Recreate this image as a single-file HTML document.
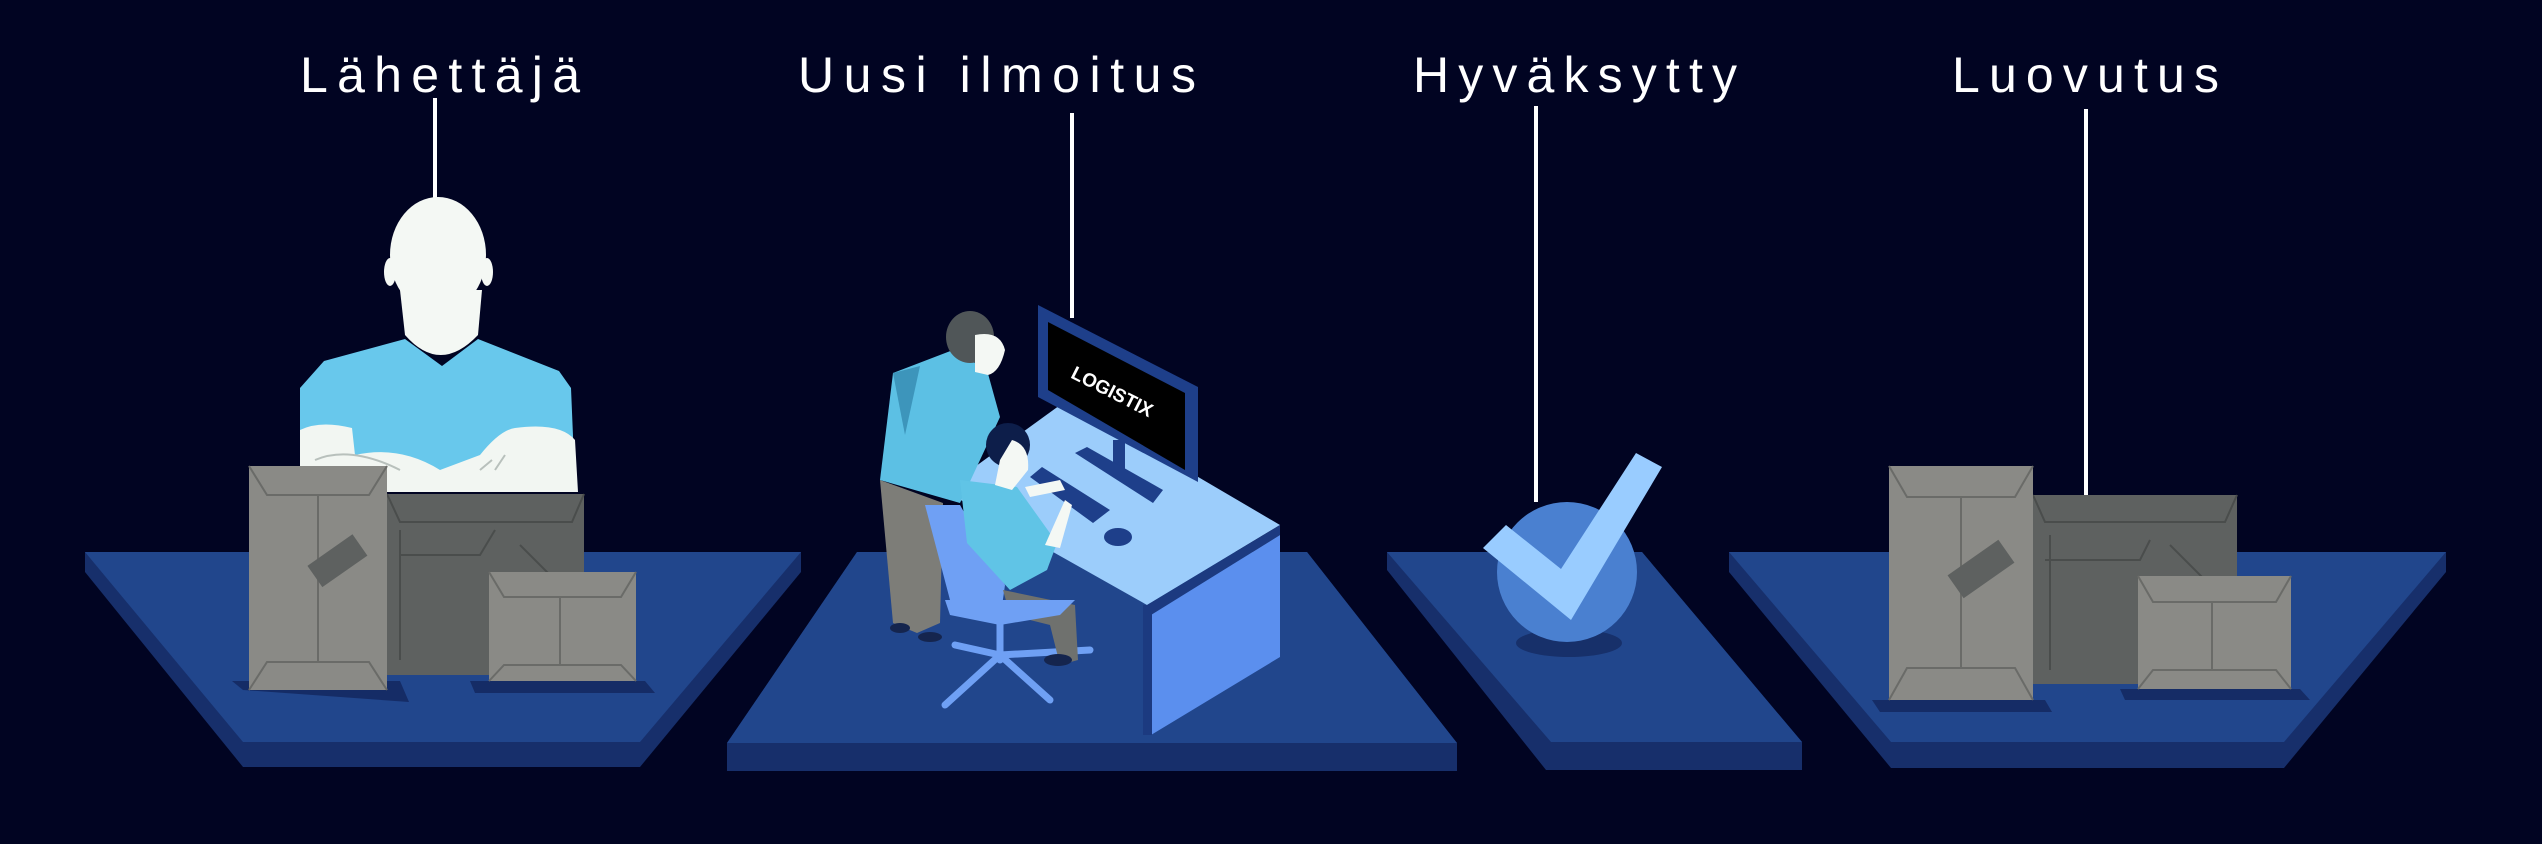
<!DOCTYPE html>
<html><head><meta charset="utf-8"><style>
html,body{margin:0;padding:0;background:#010422;}
svg{display:block}
text.lbl{font-family:"Liberation Sans",sans-serif;font-size:50px;fill:#fff;}
</style></head><body>
<svg width="2542" height="844" viewBox="0 0 2542 844" xmlns="http://www.w3.org/2000/svg">
<rect width="2542" height="844" fill="#010422"/>
<!-- labels -->
<text class="lbl" x="300" y="92" textLength="280" lengthAdjust="spacing">Lähettäjä</text>
<text class="lbl" x="798" y="92" textLength="398" lengthAdjust="spacing">Uusi ilmoitus</text>
<text class="lbl" x="1413" y="92" textLength="324" lengthAdjust="spacing">Hyväksytty</text>
<text class="lbl" x="1952" y="92" textLength="267" lengthAdjust="spacing">Luovutus</text>
<g stroke="#fff" stroke-width="4">
<line x1="435" y1="98" x2="435" y2="202"/>
<line x1="1072" y1="113" x2="1072" y2="318"/>
<line x1="1536" y1="106" x2="1536" y2="502"/>
<line x1="2086" y1="109" x2="2086" y2="496"/>
</g>

<!-- platforms -->
<polygon points="85,552 85,572 243,767 640,767 801,572 801,552" fill="#172f6b"/>
<polygon points="85,552 801,552 640,742 243,742" fill="#21468c"/>
<polygon points="857,552 727,743 727,771 1457,771 1457,743 1307,552" fill="#172f6b"/>
<polygon points="857,552 1307,552 1457,743 727,743" fill="#21468c"/>
<polygon points="1387,552 1387,570 1546,770 1802,770 1802,742 1642,552" fill="#172f6b"/>
<polygon points="1387,552 1642,552 1802,742 1551,742" fill="#21468c"/>
<polygon points="1729,552 1729,572 1891,768 2284,768 2446,572 2446,552" fill="#172f6b"/>
<polygon points="1729,552 2446,552 2284,742 1891,742" fill="#21468c"/>

<!-- Sender person -->
<polygon points="300,388 324,361 405,339 442,366 478,339 559,371 571,388 575,484 300,484" fill="#68c8ec"/>
<ellipse cx="438" cy="255" rx="48" ry="58" fill="#f4f8f4"/>
<ellipse cx="390" cy="272" rx="6" ry="14" fill="#f4f8f4"/>
<ellipse cx="487" cy="272" rx="6" ry="14" fill="#f4f8f4"/>
<path d="M400,290 L405,335 Q440,375 478,335 L482,290 Z" fill="#f4f8f4"/>
<path d="M300,430 Q320,420 352,428 L355,455 Q400,445 440,470 L480,455 Q500,430 515,428 Q560,422 575,440 L578,492 L300,492 Z" fill="#f2f6f2"/>
<path d="M315,460 Q350,445 400,470 M480,470 L492,460 M495,470 L505,455" stroke="#b8c0bc" stroke-width="2" fill="none"/>

<!-- boxes platform 1 -->
<polygon points="232,681 243,690 409,702 400,681" fill="#152c66"/>
<polygon points="470,681 475,693 655,693 645,681" fill="#152c66"/>
<rect x="387" y="494" width="197" height="181" fill="#5e6160"/>
<g stroke="#4a4d4c" stroke-width="2" fill="none">
<polyline points="387,494 400,522 572,522 584,494"/>
<polyline points="400,555 480,555 495,530"/>
<line x1="400" y1="530" x2="400" y2="660"/>
<line x1="520" y1="545" x2="555" y2="580"/>
</g>
<rect x="249" y="466" width="138" height="224" fill="#8a8a86"/>
<g stroke="#6a6b68" stroke-width="2" fill="none">
<polyline points="249,466 267,495 369,495 387,466"/>
<polyline points="249,690 267,662 369,662 387,690"/>
<line x1="318" y1="495" x2="318" y2="662"/>
</g>
<rect x="310" y="548" width="55" height="26" fill="#5e6160" transform="rotate(-35 337 561)"/>
<rect x="489" y="572" width="147" height="109" fill="#8a8a86"/>
<g stroke="#6a6b68" stroke-width="2" fill="none">
<polyline points="489,572 504,597 621,597 636,572"/>
<polyline points="489,681 504,665 621,665 636,681"/>
<line x1="560" y1="597" x2="560" y2="665"/>
</g>

<!-- computer scene -->
<!-- desk -->
<polygon points="943,490 1067,400 1280,525 1147,605" fill="#9ccdfb"/>
<polygon points="1147,605 1280,525 1280,535 1151,615 1143,610" fill="#1c3a80"/>
<polygon points="1151,615 1280,535 1280,657 1151,735" fill="#5b8fee"/>
<rect x="1143" y="605" width="9" height="130" fill="#1c3a80"/>
<!-- monitor -->
<polygon points="1038,305 1198,387 1198,482 1038,397" fill="#1e3f8a"/>
<polygon points="1048,322 1185,393 1185,470 1048,390" fill="#000"/>
<text x="1112" y="398" transform="rotate(27 1112 392)" text-anchor="middle" font-family="Liberation Sans,sans-serif" font-weight="bold" font-size="19" fill="#fff">LOGISTIX</text>
<rect x="1113" y="440" width="12" height="35" fill="#1e3f8a"/>
<polygon points="1075,453 1087,447 1163,490 1153,503" fill="#1e3f8a"/>
<polygon points="1030,477 1042,467 1110,510 1093,523" fill="#1e3f8a"/>
<ellipse cx="1118" cy="537" rx="14" ry="9" fill="#1e3f8a"/>
<!-- standing man -->
<polygon points="880,480 943,503 940,623 917,633 893,623" fill="#7d7d78"/>
<polygon points="893,373 953,350 987,370 1000,417 960,503 880,480" fill="#5cc0e4"/>
<polygon points="893,373 920,366 905,435" fill="#3d95bb"/>
<ellipse cx="970" cy="337" rx="24" ry="26" fill="#505658"/>
<path d="M975,335 Q1000,330 1005,350 Q1000,372 988,375 L975,372 Z" fill="#f4f8f4"/>
<ellipse cx="900" cy="628" rx="10" ry="5" fill="#15254e"/>
<ellipse cx="930" cy="637" rx="12" ry="5" fill="#15254e"/>
<!-- chair -->
<g stroke="#6fa0f4" stroke-width="7" stroke-linecap="round" fill="none">
<line x1="1000" y1="655" x2="945" y2="705"/>
<line x1="1000" y1="655" x2="1050" y2="700"/>
<line x1="1000" y1="655" x2="955" y2="645"/>
<line x1="1000" y1="655" x2="1090" y2="650"/>
<line x1="1000" y1="620" x2="1000" y2="660"/>
</g>
<polygon points="925,505 960,505 1005,585 1000,620 950,600" fill="#6fa0f4"/>
<!-- seated person -->
<polygon points="1003,590 1075,605 1078,660 1060,665 1050,625 1010,615" fill="#6f716e"/>
<polygon points="960,480 1017,487 1057,543 1047,570 1010,590 967,543" fill="#60c4e6"/>
<path d="M1025,487 L1060,480 L1065,490 L1030,497 Z" fill="#f4f8f4"/>
<path d="M1045,545 L1065,500 L1072,505 L1060,548 Z" fill="#f4f8f4"/>
<ellipse cx="1008" cy="445" rx="22" ry="22" fill="#0d1e4a"/>
<path d="M1012,440 Q1030,445 1028,470 L1012,490 L995,485 L1000,460 Z" fill="#f4f8f4"/>
<polygon points="945,600 1010,600 1075,600 1060,615 1000,625 950,615" fill="#6fa0f4"/>
<ellipse cx="1058" cy="660" rx="14" ry="6" fill="#15254e"/>

<!-- check -->
<ellipse cx="1569" cy="643" rx="53" ry="14" fill="#17306a"/>
<circle cx="1567" cy="572" r="70" fill="#4a80d0"/>
<polygon points="1483,548 1506,525 1561,569 1636,453 1662,467 1571,620" fill="#99ccff"/>

<!-- boxes platform 4 -->
<polygon points="1872,700 1880,712 2052,712 2045,700" fill="#152c66"/>
<polygon points="2120,689 2125,700 2310,700 2300,689" fill="#152c66"/>
<rect x="2033" y="495" width="204" height="189" fill="#5e6160"/>
<g stroke="#4a4d4c" stroke-width="2" fill="none">
<polyline points="2033,495 2045,522 2225,522 2237,495"/>
<polyline points="2045,560 2140,560 2150,540"/>
<line x1="2050" y1="535" x2="2050" y2="670"/>
<line x1="2170" y1="545" x2="2210" y2="585"/>
</g>
<rect x="1889" y="466" width="144" height="234" fill="#8a8a86"/>
<g stroke="#6a6b68" stroke-width="2" fill="none">
<polyline points="1889,466 1907,497 2015,497 2033,466"/>
<polyline points="1889,700 1907,668 2015,668 2033,700"/>
<line x1="1961" y1="497" x2="1961" y2="668"/>
</g>
<rect x="1950" y="555" width="62" height="28" fill="#5e6160" transform="rotate(-35 1981 569)"/>
<rect x="2138" y="576" width="153" height="113" fill="#8a8a86"/>
<g stroke="#6a6b68" stroke-width="2" fill="none">
<polyline points="2138,576 2153,602 2276,602 2291,576"/>
<polyline points="2138,689 2153,670 2276,670 2291,689"/>
<line x1="2212" y1="602" x2="2212" y2="670"/>
</g>
</svg>
</body></html>
